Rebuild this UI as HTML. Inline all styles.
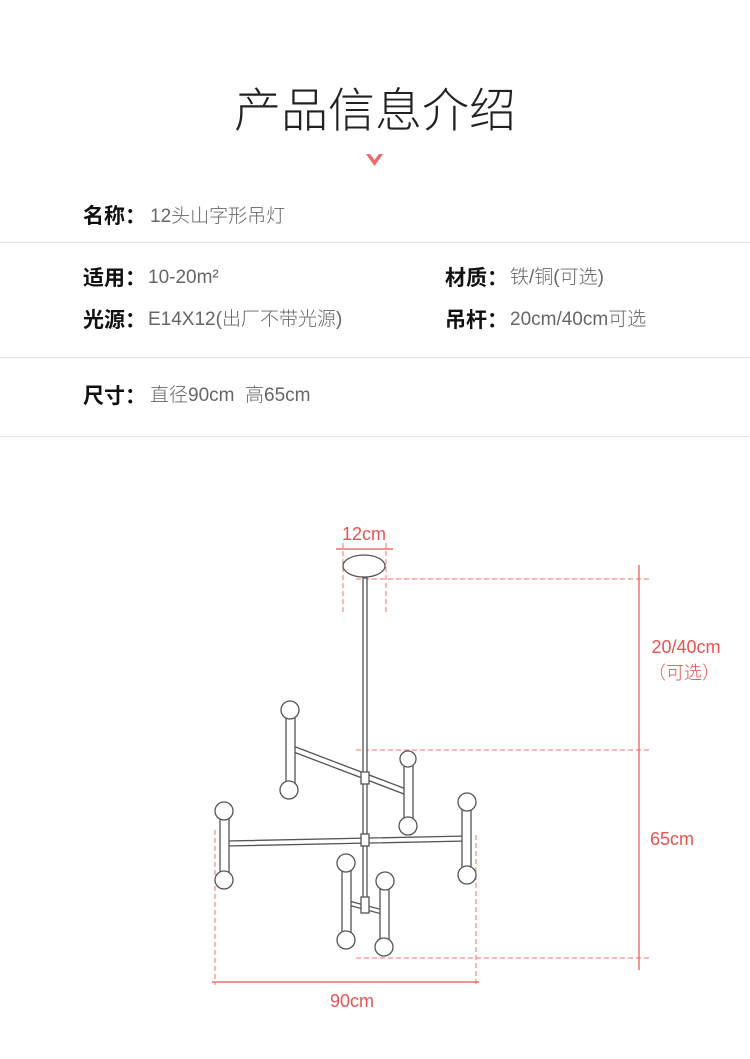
<!DOCTYPE html>
<html><head><meta charset="utf-8"><style>
body{margin:0;width:750px;height:1059px;background:#fff;position:relative;overflow:hidden;font-family:"Liberation Sans","Noto Sans CJK SC",sans-serif}
.t{position:absolute;white-space:nowrap;line-height:1}
.l{font-weight:bold;font-size:21px;color:#111}
.v{font-size:19px;color:#666;font-weight:300}
.hr{position:absolute;left:0;width:750px;height:1px;background:#e3e3e3}
</style></head><body>
<div class="t" style="left:0;width:750px;text-align:center;top:87px;font-size:47px;color:#222;font-weight:300">产品信息介绍</div>
<svg style="position:absolute;left:365px;top:152px" width="20" height="18"><path d="M1 2 L9.5 14 L18 2 L14 2 L9.5 8 L5 2Z" fill="#f0686a"/></svg>
<div class="t l" style="left:83px;top:206px">名称：</div><div class="t v" style="left:150px;top:207px">12头山字形吊灯</div>
<div class="hr" style="top:242px"></div>
<div class="t l" style="left:83px;top:268px">适用：</div><div class="t v" style="left:148px;top:268px">10-20m²</div>
<div class="t l" style="left:445px;top:268px">材质：</div><div class="t v" style="left:510px;top:268px">铁/铜(可选)</div>
<div class="t l" style="left:83px;top:310px">光源：</div><div class="t v" style="left:148px;top:310px">E14X12(出厂不带光源)</div>
<div class="t l" style="left:445px;top:310px">吊杆：</div><div class="t v" style="left:510px;top:310px">20cm/40cm可选</div>
<div class="hr" style="top:357px"></div>
<div class="t l" style="left:83px;top:386px">尺寸：</div><div class="t v" style="left:150px;top:386px">直径90cm&nbsp; 高65cm</div>
<div class="hr" style="top:436px"></div>
<svg style="position:absolute;left:0;top:0" width="750" height="1059">
<g stroke="#e8534f" stroke-width="1" fill="none" stroke-dasharray="5,3" opacity="0.8">
<line x1="343" y1="543" x2="343" y2="615"/><line x1="386" y1="543" x2="386" y2="615"/>
<line x1="356" y1="579" x2="650" y2="579"/><line x1="356" y1="750" x2="650" y2="750"/><line x1="356" y1="958" x2="650" y2="958"/>
<line x1="215" y1="830" x2="215" y2="985"/><line x1="476" y1="835" x2="476" y2="985"/>
</g>
<g stroke="#e8534f" stroke-width="1.2">
<line x1="336" y1="549" x2="393" y2="549"/><line x1="639" y1="565" x2="639" y2="970"/><line x1="212" y1="982" x2="479" y2="982"/>
</g>
<g fill="#e8534f" font-size="18" font-family="Liberation Sans,Noto Sans CJK SC,sans-serif" text-anchor="middle" font-weight="300">
<text x="364" y="540">12cm</text><text x="686" y="653">20/40cm</text><text x="684" y="679">（可选）</text><text x="672" y="845">65cm</text><text x="352" y="1007">90cm</text>
</g>
<g stroke="#555" stroke-width="1.3" fill="#fff">
<ellipse cx="364" cy="566" rx="21" ry="11"/>
<rect x="363" y="578" width="4" height="334"/>
<path d="M293 746 L406 789 L404 794 L291 751Z"/>
<path d="M227 841 L467 836 L467 841 L227 846Z"/>
<path d="M349 901 L383 910 L382 914 L348 905Z"/>
<rect x="361" y="772" width="8" height="12"/><rect x="361" y="834" width="8" height="12"/><rect x="361" y="897" width="8" height="16"/>
<g>
<rect x="286" y="712" width="9" height="72"/><circle cx="290" cy="710" r="9"/><circle cx="289" cy="790" r="9"/>
<rect x="404" y="760" width="9" height="62"/><circle cx="408" cy="759" r="8"/><circle cx="408" cy="826" r="9"/>
<rect x="220" y="812" width="9" height="66"/><circle cx="224" cy="811" r="9"/><circle cx="224" cy="880" r="9"/>
<rect x="462" y="803" width="9" height="70"/><circle cx="467" cy="802" r="9"/><circle cx="467" cy="875" r="9"/>
<rect x="342" y="865" width="9" height="73"/><circle cx="346" cy="863" r="9"/><circle cx="346" cy="940" r="9"/>
<rect x="380" y="882" width="9" height="63"/><circle cx="385" cy="881" r="9"/><circle cx="384" cy="947" r="9"/>
</g>
</g>
</svg>
</body></html>
